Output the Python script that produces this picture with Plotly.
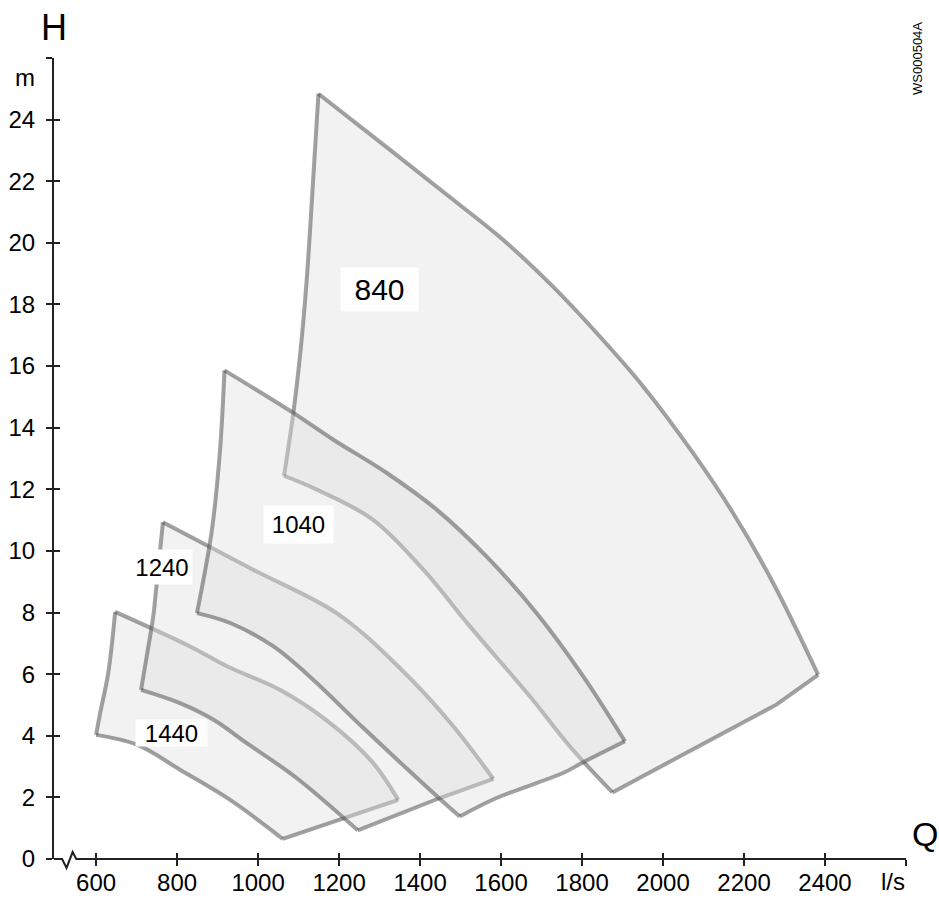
import plotly.graph_objects as go

# ---------------- data ----------------
# Q in l/s, H in m. Each operating field is split into its four edges.
q840_top = [1149, 1326, 1482, 1605, 1729, 1844, 1951, 2074, 2173, 2272, 2383]
h840_top = [24.84, 23.02, 21.40, 20.10, 18.57, 16.96, 15.34, 13.18, 11.23, 8.96, 5.98]
q840_right = [2383, 2280, 1875]
h840_right = [5.98, 5.01, 2.16]
q840_bottom = [1875, 1770, 1671, 1523, 1408, 1284, 1145, 1064]
h840_bottom = [2.16, 3.65, 5.28, 7.55, 9.39, 11.01, 11.99, 12.44]
q840_left = [1064, 1087, 1105, 1120, 1136, 1149]
h840_left = [12.44, 14.48, 16.53, 18.80, 22.05, 24.84]

q1040_top = [917, 1087, 1186, 1318, 1441, 1564, 1688, 1803, 1906]
h1040_top = [15.86, 14.48, 13.61, 12.53, 11.34, 9.82, 7.98, 5.93, 3.82]
q1040_right = [1906, 1803, 1753, 1589, 1498]
h1040_right = [3.82, 3.14, 2.79, 1.98, 1.38]
q1040_bottom = [1498, 1449, 1260, 1136, 1038, 931, 849]
h1040_bottom = [1.38, 1.95, 4.25, 5.82, 6.90, 7.66, 7.98]
q1040_left = [849, 886, 906, 917]
h1040_left = [7.98, 10.69, 13.28, 15.86]

q1240_top = [765, 988, 1194, 1350, 1479, 1581]
h1240_top = [10.93, 9.39, 7.98, 6.20, 4.36, 2.60]
q1240_right = [1581, 1449, 1246]
h1240_right = [2.60, 1.98, 0.93]
q1240_bottom = [1246, 1095, 972, 890, 807, 711]
h1240_bottom = [0.93, 2.63, 3.76, 4.52, 5.06, 5.49]
q1240_left = [711, 725, 741, 748, 765]
h1240_left = [5.49, 6.58, 7.87, 8.74, 10.93]

q1440_top = [647, 832, 926, 1054, 1178, 1284, 1346]
h1440_top = [8.02, 6.90, 6.24, 5.49, 4.41, 3.12, 1.92]
q1440_right = [1346, 1169, 1061]
h1440_right = [1.92, 1.11, 0.65]
q1440_bottom = [1061, 931, 807, 701, 600]
h1440_bottom = [0.65, 1.92, 2.90, 3.71, 4.03]
q1440_left = [600, 610, 630, 647]
h1440_left = [4.03, 4.74, 6.04, 8.02]

field_names = ["840", "1040", "1240", "1440"]
label_q = [1299, 1100, 762, 786]
label_h = [18.48, 10.85, 9.47, 4.08]
label_size = [30, 24, 24, 24]
label_w = [77, 69, 60, 71]
label_h_px = [43, 37, 34, 26]

x_tick_vals = [600, 800, 1000, 1200, 1400, 1600, 1800, 2000, 2200, 2400, 2600]
x_tick_text = ["600", "800", "1000", "1200", "1400", "1600", "1800", "2000", "2200", "2400", ""]
y_tick_vals = [0, 2, 4, 6, 8, 10, 12, 14, 16, 18, 20, 22, 24, 26]
y_tick_text = ["0", "2", "4", "6", "8", "10", "12", "14", "16", "18", "20", "22", "24", ""]

# ---------------- figure ----------------
FONT = "Liberation Sans, Arial, Helvetica, sans-serif"
AX = "#222222"
FILL = "rgba(223,223,223,0.41)"
EDGE = "rgba(70,70,70,0.5)"

fields = {
    "840": [(q840_top, h840_top, "spline"), (q840_right, h840_right, "linear"),
            (q840_bottom, h840_bottom, "spline"), (q840_left, h840_left, "spline")],
    "1040": [(q1040_top, h1040_top, "spline"), (q1040_right, h1040_right, "spline"),
             (q1040_bottom, h1040_bottom, "spline"), (q1040_left, h1040_left, "spline")],
    "1240": [(q1240_top, h1240_top, "spline"), (q1240_right, h1240_right, "linear"),
             (q1240_bottom, h1240_bottom, "spline"), (q1240_left, h1240_left, "spline")],
    "1440": [(q1440_top, h1440_top, "spline"), (q1440_right, h1440_right, "linear"),
             (q1440_bottom, h1440_bottom, "spline"), (q1440_left, h1440_left, "spline")],
}

fig = go.Figure()
for name in ["840", "1440", "1240", "1040"]:
    edges = fields[name]
    q, h = [], []
    for i, (eq, eh, _) in enumerate(edges):
        q += eq[(0 if i == 0 else 1):]
        h += eh[(0 if i == 0 else 1):]
    # filled field
    fig.add_trace(go.Scatter(x=q, y=h, mode="lines", fill="toself", fillcolor=FILL,
                             line=dict(width=0), hoverinfo="skip", showlegend=False))
    # its outline, edge by edge
    for eq, eh, shape in edges:
        fig.add_trace(go.Scatter(x=eq, y=eh, mode="lines",
                                 line=dict(color=EDGE, width=4, shape=shape, smoothing=1),
                                 hoverinfo="skip", showlegend=False))

# empty trace so the overlay axes (inner halves of the crossing ticks) exist
fig.add_trace(go.Scatter(x=[], y=[], xaxis="x2", yaxis="y2",
                         showlegend=False, hoverinfo="skip"))

XR = [496, 2600]
YR = [0, 26]
tick_common = dict(ticklen=6, tickwidth=1.6, tickcolor=AX,
                   showgrid=False, zeroline=False, automargin=False)

fig.update_layout(
    width=939, height=898,
    margin=dict(l=54, r=33, t=58, b=39),
    paper_bgcolor="white", plot_bgcolor="white",
    font=dict(family=FONT, color="black"),
    xaxis=dict(range=XR, tickmode="array", tickvals=x_tick_vals, ticktext=x_tick_text,
               ticks="outside", showline=False, tickfont=dict(size=24),
               ticklabelstandoff=-4, **tick_common),
    xaxis2=dict(range=XR, overlaying="x", anchor="y", side="bottom",
                tickmode="array", tickvals=x_tick_vals, ticks="inside",
                showticklabels=False, showline=False, **tick_common),
    yaxis=dict(range=YR, tickmode="array", tickvals=y_tick_vals, ticktext=y_tick_text,
               ticks="outside", showline=True, linecolor=AX, linewidth=2,
               tickfont=dict(size=24), ticklabelstandoff=6, **tick_common),
    yaxis2=dict(range=YR, overlaying="y", anchor="x", side="left",
                tickmode="array", tickvals=y_tick_vals, ticks="inside",
                showticklabels=False, showline=False, **tick_common),
)

# x axis line with the break symbol near the origin
fig.add_shape(type="path", xref="x", yref="paper", layer="above",
              path="M 496,0 L 516,0 L 527,-0.0112 L 542,0.0087 L 551,0 L 2600,0",
              line=dict(color=AX, width=2))

for name, lq, lh, fs, w, hh in zip(field_names, label_q, label_h, label_size, label_w, label_h_px):
    fig.add_annotation(x=lq, y=lh, xref="x", yref="y", text=name, showarrow=False,
                       font=dict(size=fs, family=FONT, color="black"),
                       bgcolor="white", borderpad=0, width=w, height=hh,
                       xanchor="center", yanchor="middle")

fig.add_annotation(x=0, y=1.0387, xref="paper", yref="paper", text="H", showarrow=False,
                   font=dict(size=36, family=FONT, color="black"),
                   xanchor="center", yanchor="middle")
fig.add_annotation(x=-0.034, y=0.9757, xref="paper", yref="paper", text="m", showarrow=False,
                   font=dict(size=24, family=FONT, color="black"),
                   xanchor="center", yanchor="middle")
fig.add_annotation(x=1.0223, y=0.0312, xref="paper", yref="paper", text="Q", showarrow=False,
                   font=dict(size=34, family=FONT, color="black"),
                   xanchor="center", yanchor="middle")
fig.add_annotation(x=0.9848, y=-0.0287, xref="paper", yref="paper", text="l/s", showarrow=False,
                   font=dict(size=24, family=FONT, color="black"),
                   xanchor="center", yanchor="middle")
fig.add_annotation(x=1.0141, y=0.9988, xref="paper", yref="paper", text="WS000504A",
                   showarrow=False, textangle=-90,
                   font=dict(size=13, family=FONT, color="black"),
                   xanchor="center", yanchor="middle")

fig.write_html(
    "out.html",
    config={"displayModeBar": False},
    post_script="document.body.style.margin='0';document.body.style.overflow='hidden';",
)
